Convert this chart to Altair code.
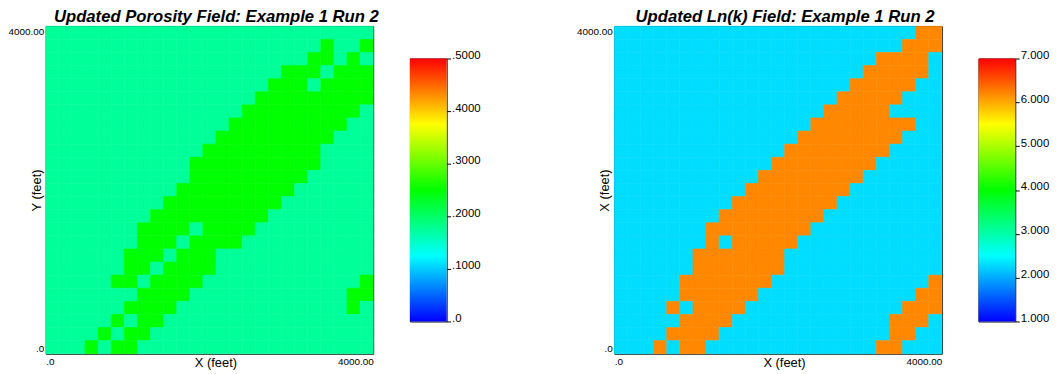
import altair as alt
import pandas as pd

# ---- grid definition ----
N_CELLS = 25
CELL_FT = 160
X_MAX = 4000

# Porosity panel: high-porosity cell runs (first col, last col) per row, rows listed top -> bottom
POR_LOW = 0.175
POR_HIGH = 0.25
POR_RUNS = [
    [],
    [(21, 21), (24, 24)],
    [(20, 21), (23, 23)],
    [(18, 20), (22, 24)],
    [(17, 19), (21, 24)],
    [(16, 24)],
    [(15, 23)],
    [(14, 22)],
    [(13, 21)],
    [(12, 20)],
    [(11, 20)],
    [(11, 19)],
    [(10, 18)],
    [(9, 17)],
    [(8, 16)],
    [(7, 10), (12, 15)],
    [(7, 9), (11, 14)],
    [(6, 8), (10, 12)],
    [(6, 7), (9, 12)],
    [(5, 6), (8, 11), (24, 24)],
    [(7, 10), (23, 24)],
    [(6, 9), (23, 23)],
    [(5, 5), (7, 8)],
    [(4, 4), (6, 7)],
    [(3, 3), (5, 6)],
]

# Ln(k) panel
LNK_LOW = 2.3
LNK_HIGH = 6.2
LNK_RUNS = [
    [(23, 24)],
    [(22, 24)],
    [(20, 23)],
    [(19, 23)],
    [(18, 22)],
    [(17, 21)],
    [(16, 20)],
    [(15, 22)],
    [(14, 21)],
    [(13, 20)],
    [(12, 19)],
    [(11, 18)],
    [(10, 17)],
    [(9, 16)],
    [(8, 15)],
    [(7, 14)],
    [(7, 7), (9, 13)],
    [(6, 12)],
    [(6, 12)],
    [(5, 11), (24, 24)],
    [(5, 10), (23, 24)],
    [(4, 4), (6, 9), (22, 24)],
    [(5, 8), (21, 23)],
    [(4, 7), (21, 22)],
    [(3, 3), (5, 6), (20, 21)],
]

RAINBOW = ["#0000ff", "#00ffff", "#00ff00", "#ffff00", "#ff0000"]
POR_STOPS = [0.0, 0.125, 0.25, 0.375, 0.5]
POR_TICKS = [0.0, 0.1, 0.2, 0.3, 0.4, 0.5]
LNK_STOPS = [1.0, 2.5, 4.0, 5.5, 7.0]
LNK_TICKS = [1.0, 2.0, 3.0, 4.0, 5.0, 6.0, 7.0]

FONT = "Liberation Sans"


def grid_frame(runs, low, high):
    recs = []
    for r, row_runs in enumerate(runs):
        for c in range(N_CELLS):
            hi = any(a <= c <= b for a, b in row_runs)
            y0 = (N_CELLS - 1 - r) * CELL_FT
            recs.append({"x0": c * CELL_FT, "x1": (c + 1) * CELL_FT,
                         "y0": y0, "y1": y0 + CELL_FT,
                         "v": high if hi else low})
    return pd.DataFrame(recs)


def heatmap(runs, low, high, stops, title, ytitle):
    df = grid_frame(runs, low, high)
    cscale = alt.Scale(domain=stops, range=RAINBOW, interpolate="rgb")
    sscale = alt.Scale(domain=stops[::-1], range=RAINBOW[::-1], interpolate="rgb")
    axis_lab = "datum.value == 0 ? '.0' : format(datum.value, '.2f')"
    xaxis = alt.Axis(values=[0, X_MAX], labelExpr=axis_lab, labelFlush=True, ticks=False,
                     domain=False, grid=False, labelFontSize=10, labelColor="black",
                     labelPadding=3, title="X (feet)", titleFontSize=13, titleFontWeight="normal",
                     titleColor="black", titleX=171, titleY=12.5, titleAlign="center",
                     titleBaseline="alphabetic")
    yaxis = alt.Axis(values=[0, X_MAX], labelExpr=axis_lab, labelFlush=True, ticks=False,
                     domain=False, grid=False, labelFontSize=10, labelColor="black",
                     labelPadding=2, title=ytitle, titleFontSize=13, titleFontWeight="normal",
                     titleColor="black", titleX=-5.5, titleY=165, titleAngle=270,
                     titleAlign="center", titleBaseline="alphabetic")
    xs = alt.Scale(domain=[0, X_MAX], nice=False, zero=False)
    ys = alt.Scale(domain=[0, X_MAX], nice=False, zero=False)
    return alt.Chart(df).mark_rect(strokeWidth=0.6).encode(
        x=alt.X("x0:Q", scale=xs, axis=xaxis),
        x2="x1:Q",
        y=alt.Y("y0:Q", scale=ys, axis=yaxis),
        y2="y1:Q",
        color=alt.Color("v:Q", scale=cscale, legend=None),
        stroke=alt.Stroke("v:Q", scale=sscale, legend=None),
    ).properties(
        width=330, height=330,
        title=alt.Title(title, fontSize=16.8, font=FONT, fontStyle="italic", fontWeight="bold",
                        anchor="middle", dx=7, offset=0, color="black"),
    )


def colorbar(stops, ticks, label_expr):
    lo, hi = stops[0], stops[-1]
    grad = alt.LinearGradient(
        gradient="linear",
        stops=[alt.GradientStop(color=c, offset=(s - lo) / (hi - lo)) for c, s in zip(RAINBOW, stops)],
        x1=0, x2=0, y1=1, y2=0,
    )
    df = pd.DataFrame({"lo": [lo], "hi": [hi]})
    yaxis = alt.Axis(orient="right", values=ticks, labelExpr=label_expr, ticks=True, tickSize=4,
                     tickColor="black", tickWidth=1, domain=False, grid=False,
                     labelFontSize=11.5, labelColor="black", labelPadding=1,
                     labelBaseline="alphabetic", labelFlush=False, labelOverlap=False, title=None)
    return alt.Chart(df).mark_rect(color=grad).encode(
        y=alt.Y("lo:Q", scale=alt.Scale(domain=[lo, hi], nice=False, zero=False), axis=yaxis),
        y2="hi:Q",
    ).properties(width=37, height=265)


def spacer(w):
    return alt.Chart(pd.DataFrame({"a": [0]})).mark_point(opacity=0).encode(
        x=alt.X("a:Q", axis=None), y=alt.Y("a:Q", axis=None)
    ).properties(width=w, height=265, view=alt.ViewBackground(stroke="transparent"))


POR_LABEL = "datum.value == 0 ? '.0' : substring(format(datum.value, '.4f'), 1)"
LNK_LABEL = "format(datum.value, '.3f')"

left = heatmap(POR_RUNS, POR_LOW, POR_HIGH, POR_STOPS,
               "Updated Porosity Field: Example 1 Run 2", "Y (feet)")
left_bar = colorbar(POR_STOPS, POR_TICKS, POR_LABEL)
right = heatmap(LNK_RUNS, LNK_LOW, LNK_HIGH, LNK_STOPS,
                "Updated Ln(k) Field: Example 1 Run 2", "X (feet)")
right_bar = colorbar(LNK_STOPS, LNK_TICKS, LNK_LABEL)

chart = alt.hconcat(left, left_bar, spacer(95), right, right_bar,
                    spacing=37, bounds="flush", center=True).resolve_scale(
    color="independent", stroke="independent", y="independent", x="independent"
).properties(padding={"left": -1, "top": -1, "right": 0, "bottom": 0}).configure(
    font=FONT).configure_view(stroke="black", strokeWidth=1)

chart.save("out.html", embed_options={"renderer": "svg", "actions": False})
